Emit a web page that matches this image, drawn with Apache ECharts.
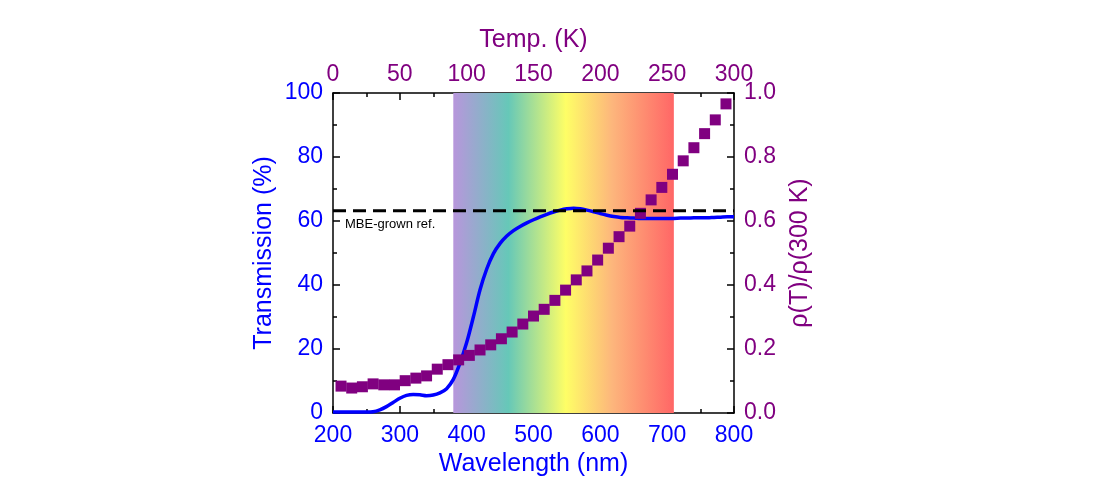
<!DOCTYPE html>
<html>
<head>
<meta charset="utf-8">
<script src="https://cdn.jsdelivr.net/npm/echarts@6/dist/echarts.min.js"></script>
<style>
  html, body { margin: 0; padding: 0; background: #fff; }
  #main { width: 1120px; height: 500px; }
</style>
</head>
<body>
<div id="main"></div>
<script>
// 透过率曲线 (Wavelength, nm -> Transmission, %)
var wavelength = [200, 210, 220, 230, 240, 250, 260, 270, 280, 290,
  300, 310, 320, 330, 340, 350, 360, 370, 380, 390,
  400, 410, 420, 430, 440, 450, 460, 470, 480, 490,
  500, 510, 520, 530, 540, 550, 560, 570, 580, 590,
  600, 610, 620, 630, 640, 650, 660, 670, 680, 690,
  700, 710, 720, 730, 740, 750, 760, 770, 780, 790, 800]
var transmission = [0.3, 0.3, 0.3, 0.3, 0.3, 0.3, 0.4, 1.0, 2.0, 3.3,
  4.6, 5.5, 5.8, 5.7, 5.4, 5.6, 6.3, 7.6, 10.5, 15.6,
  22.0, 30.0, 38.5, 45.0, 49.8, 53.0, 55.3, 57.0, 58.3, 59.4,
  60.4, 61.3, 62.1, 62.8, 63.4, 63.8, 64.0, 63.8, 63.4, 62.9,
  62.3, 61.8, 61.4, 61.1, 61.0, 60.9, 60.8, 60.8, 60.8, 60.8,
  60.8, 60.8, 60.9, 60.9, 61.0, 61.0, 61.0, 61.1, 61.2, 61.3, 61.3]

// 电阻率比 (Temp, K -> rho(T)/rho(300K))
var temp = [6, 14, 22, 30, 38, 46, 54, 62, 70, 78,
  86, 94, 102, 110, 118, 126, 134, 142, 150, 158,
  166, 174, 182, 190, 198, 206, 214, 222, 230, 238,
  246, 254, 262, 270, 278, 286, 294]
var rhoRatio = [0.084, 0.078, 0.082, 0.091, 0.088, 0.088, 0.101, 0.109, 0.116, 0.137,
  0.151, 0.166, 0.180, 0.197, 0.213, 0.232, 0.253, 0.278, 0.303, 0.324,
  0.352, 0.384, 0.416, 0.444, 0.478, 0.515, 0.551, 0.584, 0.624, 0.666,
  0.705, 0.746, 0.788, 0.829, 0.873, 0.916, 0.966]

// MBE 参考线
var refX = [200, 800]
var refLevel = 63.2

// 可见光范围
var visibleBand = [380, 710]

var BLUE = '#0000ff'
var PURPLE = '#800080'
var FONT = 'Liberation Sans, Arial, sans-serif'

function axisStyle(color) {
  return {
    axisLine: { show: true, onZero: false, lineStyle: { color: '#000', width: 1.5 } },
    axisTick: { show: true, inside: true, length: 7, lineStyle: { color: '#000', width: 1.5 } },
    minorTick: { show: true, splitNumber: 2, length: 4, lineStyle: { color: '#000', width: 1.5 } },
    splitLine: { show: false },
    axisLabel: { color: color, fontSize: 23, fontFamily: FONT },
    nameTextStyle: { color: color, fontSize: 25, fontFamily: FONT },
    nameLocation: 'middle'
  }
}

var chart = echarts.init(document.getElementById('main'))

var xBottom = Object.assign(axisStyle(BLUE), {
  type: 'value', position: 'bottom', min: 200, max: 800, interval: 100,
  name: 'Wavelength (nm)', nameGap: 39
})
xBottom.axisLabel.margin = 11

var xTop = Object.assign(axisStyle(PURPLE), {
  type: 'value', position: 'top', min: 0, max: 300, interval: 50,
  name: 'Temp. (K)', nameGap: 40
})
xTop.axisLabel.margin = 7

var yLeft = Object.assign(axisStyle(BLUE), {
  type: 'value', position: 'left', min: 0, max: 100, interval: 20,
  name: 'Transmission (%)', nameGap: 56
})
yLeft.axisLabel.margin = 10

var yRight = Object.assign(axisStyle(PURPLE), {
  type: 'value', position: 'right', min: 0, max: 1, interval: 0.2,
  name: 'ρ(T)/ρ(300 K)', nameGap: 54
})
yRight.axisLabel.margin = 10
yRight.axisLabel.formatter = function (v) { return v.toFixed(1) }

var option = {
  animation: false,
  grid: { left: 333, right: 386, top: 93, bottom: 87 },
  xAxis: [xBottom, xTop],
  yAxis: [yLeft, yRight],
  graphic: [{
    type: 'text', left: 345, top: 218, z: 10,
    style: { text: 'MBE-grown ref.', fill: '#000', fontSize: 13, fontFamily: FONT }
  }],
  series: [
    {
      // 彩色背景
      type: 'line', xAxisIndex: 0, yAxisIndex: 0, data: [], z: 1,
      markArea: {
        silent: true,
        itemStyle: {
          color: new echarts.graphic.LinearGradient(0, 0, 1, 0, [
            { offset: 0, color: '#b896dc' },
            { offset: 0.25, color: '#66c8b8' },
            { offset: 0.51, color: '#fefe66' },
            { offset: 0.72, color: '#fdb67c' },
            { offset: 1, color: '#ff6666' }
          ])
        },
        data: [[{ xAxis: visibleBand[0] }, { xAxis: visibleBand[1] }]]
      }
    },
    {
      name: 'Transmission', type: 'line', xAxisIndex: 0, yAxisIndex: 0, z: 3,
      showSymbol: false, smooth: 0.3,
      lineStyle: { color: BLUE, width: 3.5 },
      data: wavelength.map(function (w, i) { return [w, transmission[i]] })
    },
    {
      name: 'rho', type: 'scatter', xAxisIndex: 1, yAxisIndex: 1, z: 4,
      symbol: 'rect', symbolSize: 11,
      itemStyle: { color: PURPLE, opacity: 1 },
      data: temp.map(function (t, i) { return [t, rhoRatio[i]] })
    },
    {
      name: 'MBE ref', type: 'line', xAxisIndex: 0, yAxisIndex: 0, z: 5,
      showSymbol: false,
      lineStyle: { color: '#000', width: 3, type: [13, 7] },
      data: refX.map(function (x) { return [x, refLevel] })
    }
  ]
}

chart.setOption(option)
</script>
</body>
</html>
